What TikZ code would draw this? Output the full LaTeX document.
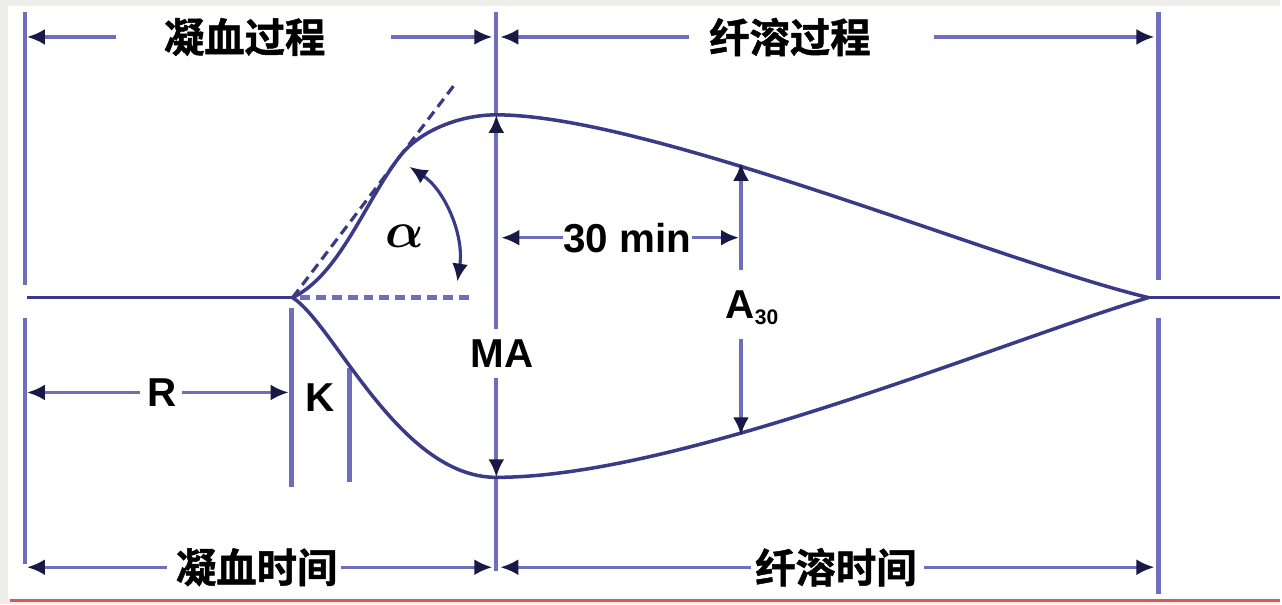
\documentclass[tikz,border=0pt]{standalone}
\usepackage{fontspec}
\setmainfont{Liberation Sans}
\newfontfamily\cjk{Noto Sans CJK SC}[BoldFont={Noto Sans CJK SC Bold},BoldFeatures={FakeBold=1.2}]
\usetikzlibrary{arrows.meta}
\definecolor{sfondo}{RGB}{238,237,233}
\definecolor{linea}{RGB}{110,110,188}
\definecolor{curva}{RGB}{58,58,135}
\definecolor{punta}{RGB}{25,25,70}
\definecolor{rosso}{RGB}{205,95,85}

\begin{document}
\begin{tikzpicture}[
    freccia/.style={linea,line width=0.9pt,-{Latex[length=1.8mm,width=1.6mm,color=punta]}},
    guida/.style={linea,line width=1.2pt},
    traccia/.style={curva,line width=1pt},
    cn/.style={font=\cjk\bfseries\fontsize{11.5}{12}\selectfont,inner sep=0pt},
    lt/.style={font=\bfseries\fontsize{11.5}{12}\selectfont,inner sep=0pt},
    greco/.style={font=\fontsize{15}{15}\selectfont\boldmath,inner sep=0pt}]
        %sfondo e cornice
        \fill[sfondo](0,0)rectangle(12.82,6.05);
        \fill[white](0.08,0.05)rectangle(12.82,5.99);
        \draw[rosso,line width=1pt](0.10,0.035)--(12.82,0.035);
        \useasboundingbox(0,0)rectangle(12.82,6.05);

        %punti del tracciato
        \coordinate (r0) at (2.93,3.07);
        \coordinate (tg) at (4.00,4.48);
        \coordinate (cima) at (4.97,4.90);
        \coordinate (fondo) at (4.97,1.27);
        \coordinate (fine) at (11.50,3.07);
        \coordinate (a30su) at (7.42,4.42);
        \coordinate (a30giu) at (7.42,1.69);
        \coordinate (arcoA) at (4.10,4.38);
        \coordinate (arcoB) at (4.58,3.23);

        %linee verticali
        \draw[guida](0.25,5.93)--(0.25,3.20);
        \draw[guida](0.25,2.87)--(0.25,0.40);
        \draw[guida](cima)--(4.97,5.93);
        \draw[guida](fondo)--(4.97,0.33);
        \draw[guida](11.60,5.93)--(11.60,3.25);
        \draw[guida](11.60,2.87)--(11.60,0.10);
        \draw[guida](2.92,2.97)--(2.92,1.17);
        \draw[guida](3.50,2.37)--(3.50,1.22);

        %linea di base
        \draw[traccia](0.27,3.07)--(r0);
        \draw[traccia](fine)--(12.82,3.07);

        %tracciato superiore e inferiore
        \draw[traccia](r0)..controls (3.40,3.30) and (3.65,4.02)..(tg)
                          ..controls (4.20,4.74) and (4.60,4.90)..(cima)
                          ..controls (6.50,4.90) and (10.00,3.43)..(fine);
        \draw[traccia](r0)..controls (3.35,2.80) and (4.00,1.27)..(fondo)
                          ..controls (6.80,1.27) and (10.00,2.62)..(fine);

        %tangente e angolo alfa
        \draw[curva,line width=0.9pt,dash pattern=on 1mm off 0.6mm](r0)--(4.55,5.20);
        \draw[linea,line width=1.3pt,dash pattern=on 1mm off 0.6mm](3.00,3.07)--(4.73,3.07);
        \draw[curva,line width=0.9pt,{Latex[length=1.8mm,width=1.6mm,color=punta]}-{Latex[length=1.8mm,width=1.6mm,color=punta]}](arcoA)..controls (4.45,4.15) and (4.65,3.70)..(arcoB);
        \node[greco] (alfa) at (4.05,3.68) {$\alpha$};

        %quote in alto
        \node[cn] (coag) at (2.45,5.68) {凝血过程};
        \draw[freccia]([xshift=-4.7mm]coag.west)--(0.27,5.68);
        \draw[freccia]([xshift=6.5mm]coag.east)--(4.93,5.68);
        \node[cn] (fibr) at (7.91,5.68) {纤溶过程};
        \draw[freccia]([xshift=-2mm]fibr.west)--(5.01,5.68);
        \draw[freccia]([xshift=6.3mm]fibr.east)--(11.56,5.68);

        %quote in basso
        \node[cn] (tcoag) at (2.57,0.37) {凝血时间};
        \draw[freccia]([xshift=-0.8mm]tcoag.west)--(0.27,0.37);
        \draw[freccia]([xshift=0.3mm]tcoag.east)--(4.93,0.37);
        \node[cn] (tfibr) at (8.37,0.37) {纤溶时间};
        \draw[freccia]([xshift=-0.3mm]tfibr.west)--(5.01,0.37);
        \draw[freccia]([xshift=0.7mm]tfibr.east)--(11.56,0.37);

        %R e K
        \node[lt] (R) at (1.62,2.12) {R};
        \draw[freccia]([xshift=-0.7mm]R.west)--(0.27,2.12);
        \draw[freccia]([xshift=0.5mm]R.east)--(2.89,2.12);
        \node[lt] (K) at (3.21,2.07) {K};

        %MA
        \node[lt,text height=8pt,text depth=0pt,inner ysep=1mm] (MA) at (5.03,2.51) {MA};
        \draw[guida,-{Latex[length=1.8mm,width=1.6mm,color=punta]}](MA.north -| cima)--(cima);
        \draw[guida,-{Latex[length=1.8mm,width=1.6mm,color=punta]}](MA.south -| fondo)--(fondo);

        %30 min e A30
        \node[lt] (min) at (6.28,3.67) {30 min};
        \draw[freccia](min.west)--(5.02,3.67);
        \draw[freccia](min.east)--(7.40,3.67);
        \node[lt,text height=8pt,text depth=0pt,inner ysep=2mm] (A) at (7.54,3.00) {A\textsubscript{\fontsize{6}{6}\selectfont 30}};
        \draw[guida,-{Latex[length=1.8mm,width=1.6mm,color=punta]}](A.north -| a30su)--(a30su);
        \draw[guida,-{Latex[length=1.8mm,width=1.6mm,color=punta]}](A.south -| a30giu)--(a30giu);
    \end{tikzpicture}
\end{document}
